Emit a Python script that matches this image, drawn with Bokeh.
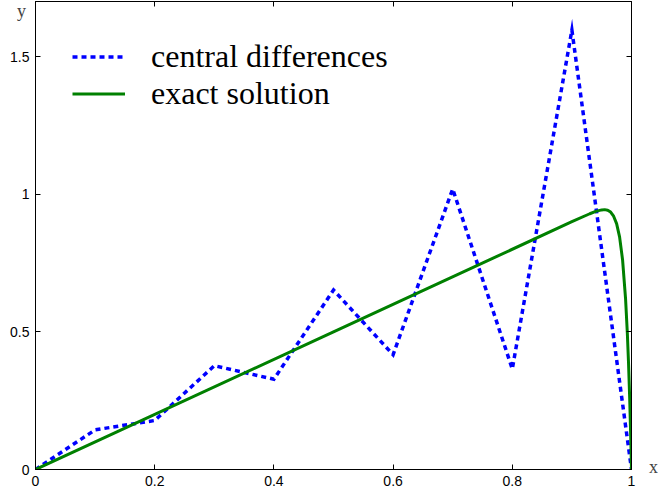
from bokeh.plotting import figure
from bokeh.models import FixedTicker, LinearAxis, Label, Legend, LegendItem, Range1d
from bokeh.embed import file_html
from bokeh.resources import INLINE

# Grid nodes and the central-difference approximation (h = 0.1)
x_nodes = [0.0, 0.1, 0.2, 0.3, 0.4, 0.5, 0.6, 0.7, 0.8, 0.9, 1.0]
central_diff = [0.0, 0.144, 0.178, 0.377, 0.328, 0.652, 0.417, 1.019, 0.365, 1.596, 0.0]

# Exact solution sampled more densely near the boundary layer at x = 1
exact_x = [0.0, 0.5, 0.9, 0.93, 0.94, 0.95, 0.955, 0.96, 0.965, 0.97, 0.975,
           0.98, 0.985, 0.99, 0.993, 0.995, 0.997, 0.999, 1.0]
exact_y = [0.0, 0.5, 0.9, 0.929, 0.9375, 0.943, 0.944, 0.942, 0.935, 0.920, 0.893,
           0.845, 0.762, 0.622, 0.496, 0.388, 0.256, 0.094, 0.0]

x_ticks = [0, 0.2, 0.4, 0.6, 0.8, 1]
x_tick_labels = ["0", "0.2", "0.4", "0.6", "0.8", "1"]
y_ticks = [0, 0.5, 1, 1.5]
y_tick_labels = ["0", "0.5", "1", "1.5"]

TICK_FONT = "Liberation Sans"
SERIF = "Liberation Serif"

p = figure(width=658, height=497, x_range=Range1d(0, 1), y_range=Range1d(0, 1.7),
           output_backend="svg", toolbar_location=None,
           x_axis_location=None, y_axis_location=None,
           min_border_left=35, min_border_right=27, min_border_top=1, min_border_bottom=28)
p.grid.visible = False
p.outline_line_color = "black"
p.outline_line_width = 1
p.background_fill_color = "white"
p.border_fill_color = "white"


def make_axis(ticks, labels, show_labels):
    ax = LinearAxis(ticker=FixedTicker(ticks=ticks))
    if show_labels:
        ax.major_label_overrides = {t: l for t, l in zip(ticks, labels)}
    else:
        ax.major_label_overrides = {t: "" for t in ticks}
    ax.major_tick_in = 5
    ax.major_tick_out = 0
    ax.minor_tick_in = 0
    ax.minor_tick_out = 0
    ax.axis_line_color = "black"
    ax.major_tick_line_color = "black"
    ax.major_label_text_font = TICK_FONT
    ax.major_label_text_font_size = "14px"
    ax.major_label_text_color = "black"
    ax.major_label_standoff = 6 if show_labels else 0
    return ax


p.add_layout(make_axis(x_ticks, x_tick_labels, True), "below")
p.add_layout(make_axis(y_ticks, y_tick_labels, True), "left")
p.add_layout(make_axis(x_ticks, x_tick_labels, False), "above")
p.add_layout(make_axis(y_ticks, y_tick_labels, False), "right")

r_cd = p.line(x_nodes, central_diff, line_color="blue", line_width=3.5,
              line_dash="5 4", line_join="miter")
r_ex = p.line(exact_x, exact_y, line_color="#008000", line_width=3)

legend = Legend(items=[LegendItem(label="central differences", renderers=[r_cd]),
                       LegendItem(label="exact solution", renderers=[r_ex])],
                location="top_left", margin=37, padding=0, spacing=0,
                glyph_width=53, glyph_height=37, label_height=37,
                label_standoff=26, label_text_font=SERIF,
                label_text_font_size="32px", label_text_color="black",
                border_line_color=None, background_fill_alpha=0)
p.add_layout(legend)

# Axis names beside the ends of the axes (both kept in the right-hand panel)
p.add_layout(Label(x=22, y=3, x_units="screen", y_units="screen", text="x",
                   text_font=SERIF, text_font_size="18px",
                   text_baseline="middle", text_align="center"), "right")
p.add_layout(Label(x=-619, y=459, x_units="screen", y_units="screen", text="y",
                   text_font=SERIF, text_font_size="18px",
                   text_baseline="middle", text_align="center"), "right")

open("out.html", "w").write(file_html(p, INLINE))
